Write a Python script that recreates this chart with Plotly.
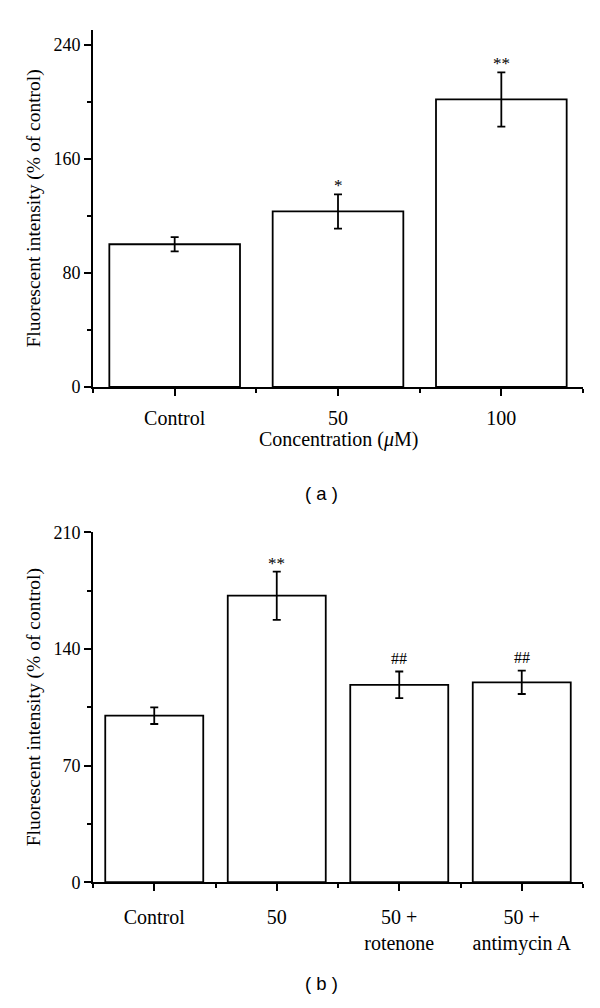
import plotly.graph_objects as go

# ---- data ----
categories_a = ["Control", "50", "100"]
values_a = [100, 123, 201.5]
errors_a = [5, 12, 19]
sig_a = ["", "*", "**"]

categories_b = ["Control", "50", "50 +<br>rotenone", "50 +<br>antimycin A"]
values_b = [100, 172, 118.5, 120]
errors_b = [5, 14.5, 8, 7]
sig_b = ["", "**", "##", "##"]

y_ticks_a = [0, 80, 160, 240]
y_ticks_b = [0, 70, 140, 210]

# the page body has an 8px margin: figure size chosen so the page is 600x1008
OFF = 8
W, H = 600 - 2 * OFF, 1008 - 2 * OFF
SERIF = "Liberation Serif, Times New Roman, serif"
SANS = "Liberation Sans, Arial, sans-serif"
LW = 1.8

def px(x):   # page x -> paper fraction
    return (x - OFF) / W

def py(y):   # page y (from top) -> paper fraction
    return 1 - (y - OFF) / H

xa = list(range(len(categories_a)))
xb = list(range(len(categories_b)))

fig = go.Figure()
bar_style = dict(marker=dict(color="white", line=dict(color="black", width=LW)),
                 width=0.8, showlegend=False, hoverinfo="skip")
err_style = dict(type="data", color="black", thickness=LW, width=4)

fig.add_trace(go.Bar(x=xa, y=values_a, error_y=dict(array=errors_a, **err_style),
                     xaxis="x", yaxis="y", **bar_style))
fig.add_trace(go.Bar(x=xb, y=values_b, error_y=dict(array=errors_b, **err_style),
                     xaxis="x2", yaxis="y2", **bar_style))

x_dom = [px(93), px(583)]

def xaxis_cfg(ticktext, anchor, standoff):
    n = len(ticktext)
    return dict(domain=x_dom, anchor=anchor, range=[-0.5, n - 0.5],
                tickmode="array", tickvals=list(range(n)), ticktext=ticktext,
                ticks="outside", ticklen=7, tickwidth=LW, tickcolor="black",
                minor=dict(tickmode="array", tickvals=[i - 0.5 for i in range(n + 1)],
                           ticks="outside", ticklen=4, tickwidth=LW, tickcolor="black"),
                showline=True, linewidth=LW, linecolor="black",
                showgrid=False, zeroline=False,
                tickfont=dict(family=SERIF, size=20, color="black"),
                ticklabelstandoff=standoff)

def yaxis_cfg(dom, rng, ticks, anchor):
    dt = ticks[1] - ticks[0]
    return dict(domain=dom, anchor=anchor, range=rng,
                tickmode="array", tickvals=ticks,
                ticks="outside", ticklen=7, tickwidth=LW, tickcolor="black",
                minor=dict(dtick=dt / 2, tick0=0, ticks="outside", ticklen=4,
                           tickwidth=LW, tickcolor="black"),
                showline=True, linewidth=LW, linecolor="black",
                showgrid=False, zeroline=False,
                tickfont=dict(family=SERIF, size=18, color="black"))

ya_dom = [py(384.5), py(20.5)]
yb_dom = [py(890), py(533)]

fig.update_layout(
    width=W, height=H,
    margin=dict(l=0, r=0, t=0, b=0),
    paper_bgcolor="white", plot_bgcolor="white",
    bargap=0.2,
    xaxis=xaxis_cfg(categories_a, "y", 5),
    yaxis=yaxis_cfg(ya_dom, [0, 250], y_ticks_a, "x"),
    xaxis2=xaxis_cfg(categories_b, "y2", 9),
    yaxis2=yaxis_cfg(yb_dom, [0, 210], y_ticks_b, "x2"),
)

ann = []
def sig_ann(xi, top, s, xr, yr):
    star = s.startswith("*")
    return dict(x=xi, y=top, xref=xr, yref=yr, text=s, showarrow=False,
                xanchor="center", yanchor="bottom", yshift=-3 if star else 3,
                font=dict(family=SERIF, size=17 if star else 16, color="black"))

for xi, v, e, s in zip(xa, values_a, errors_a, sig_a):
    if s:
        ann.append(sig_ann(xi, v + e, s, "x", "y"))
for xi, v, e, s in zip(xb, values_b, errors_b, sig_b):
    if s:
        ann.append(sig_ann(xi, v + e, s, "x2", "y2"))

def paper_text(x, y, text, font, angle=0):
    return dict(x=px(x), y=py(y), xref="paper", yref="paper", text=text,
                showarrow=False, xanchor="center", yanchor="middle",
                textangle=angle, font=font)

ytitle = "Fluorescent intensity (% of control)"
tfont = dict(family=SERIF, size=19.5, color="black")
ann.append(paper_text(34, (384.5 + 20.5) / 2, ytitle, tfont, -90))
ann.append(paper_text(34, (890 + 533) / 2, ytitle, tfont, -90))
ann.append(paper_text(338, 438, "Concentration (<i>μ</i>M)",
                      dict(family=SERIF, size=20, color="black")))
ann.append(paper_text(321, 493, "( a )", dict(family=SANS, size=18.5, color="black")))
ann.append(paper_text(321, 993, "( b )", dict(family=SANS, size=18.5, color="black")))
fig.update_layout(annotations=ann)

fig.write_html("out.html")
